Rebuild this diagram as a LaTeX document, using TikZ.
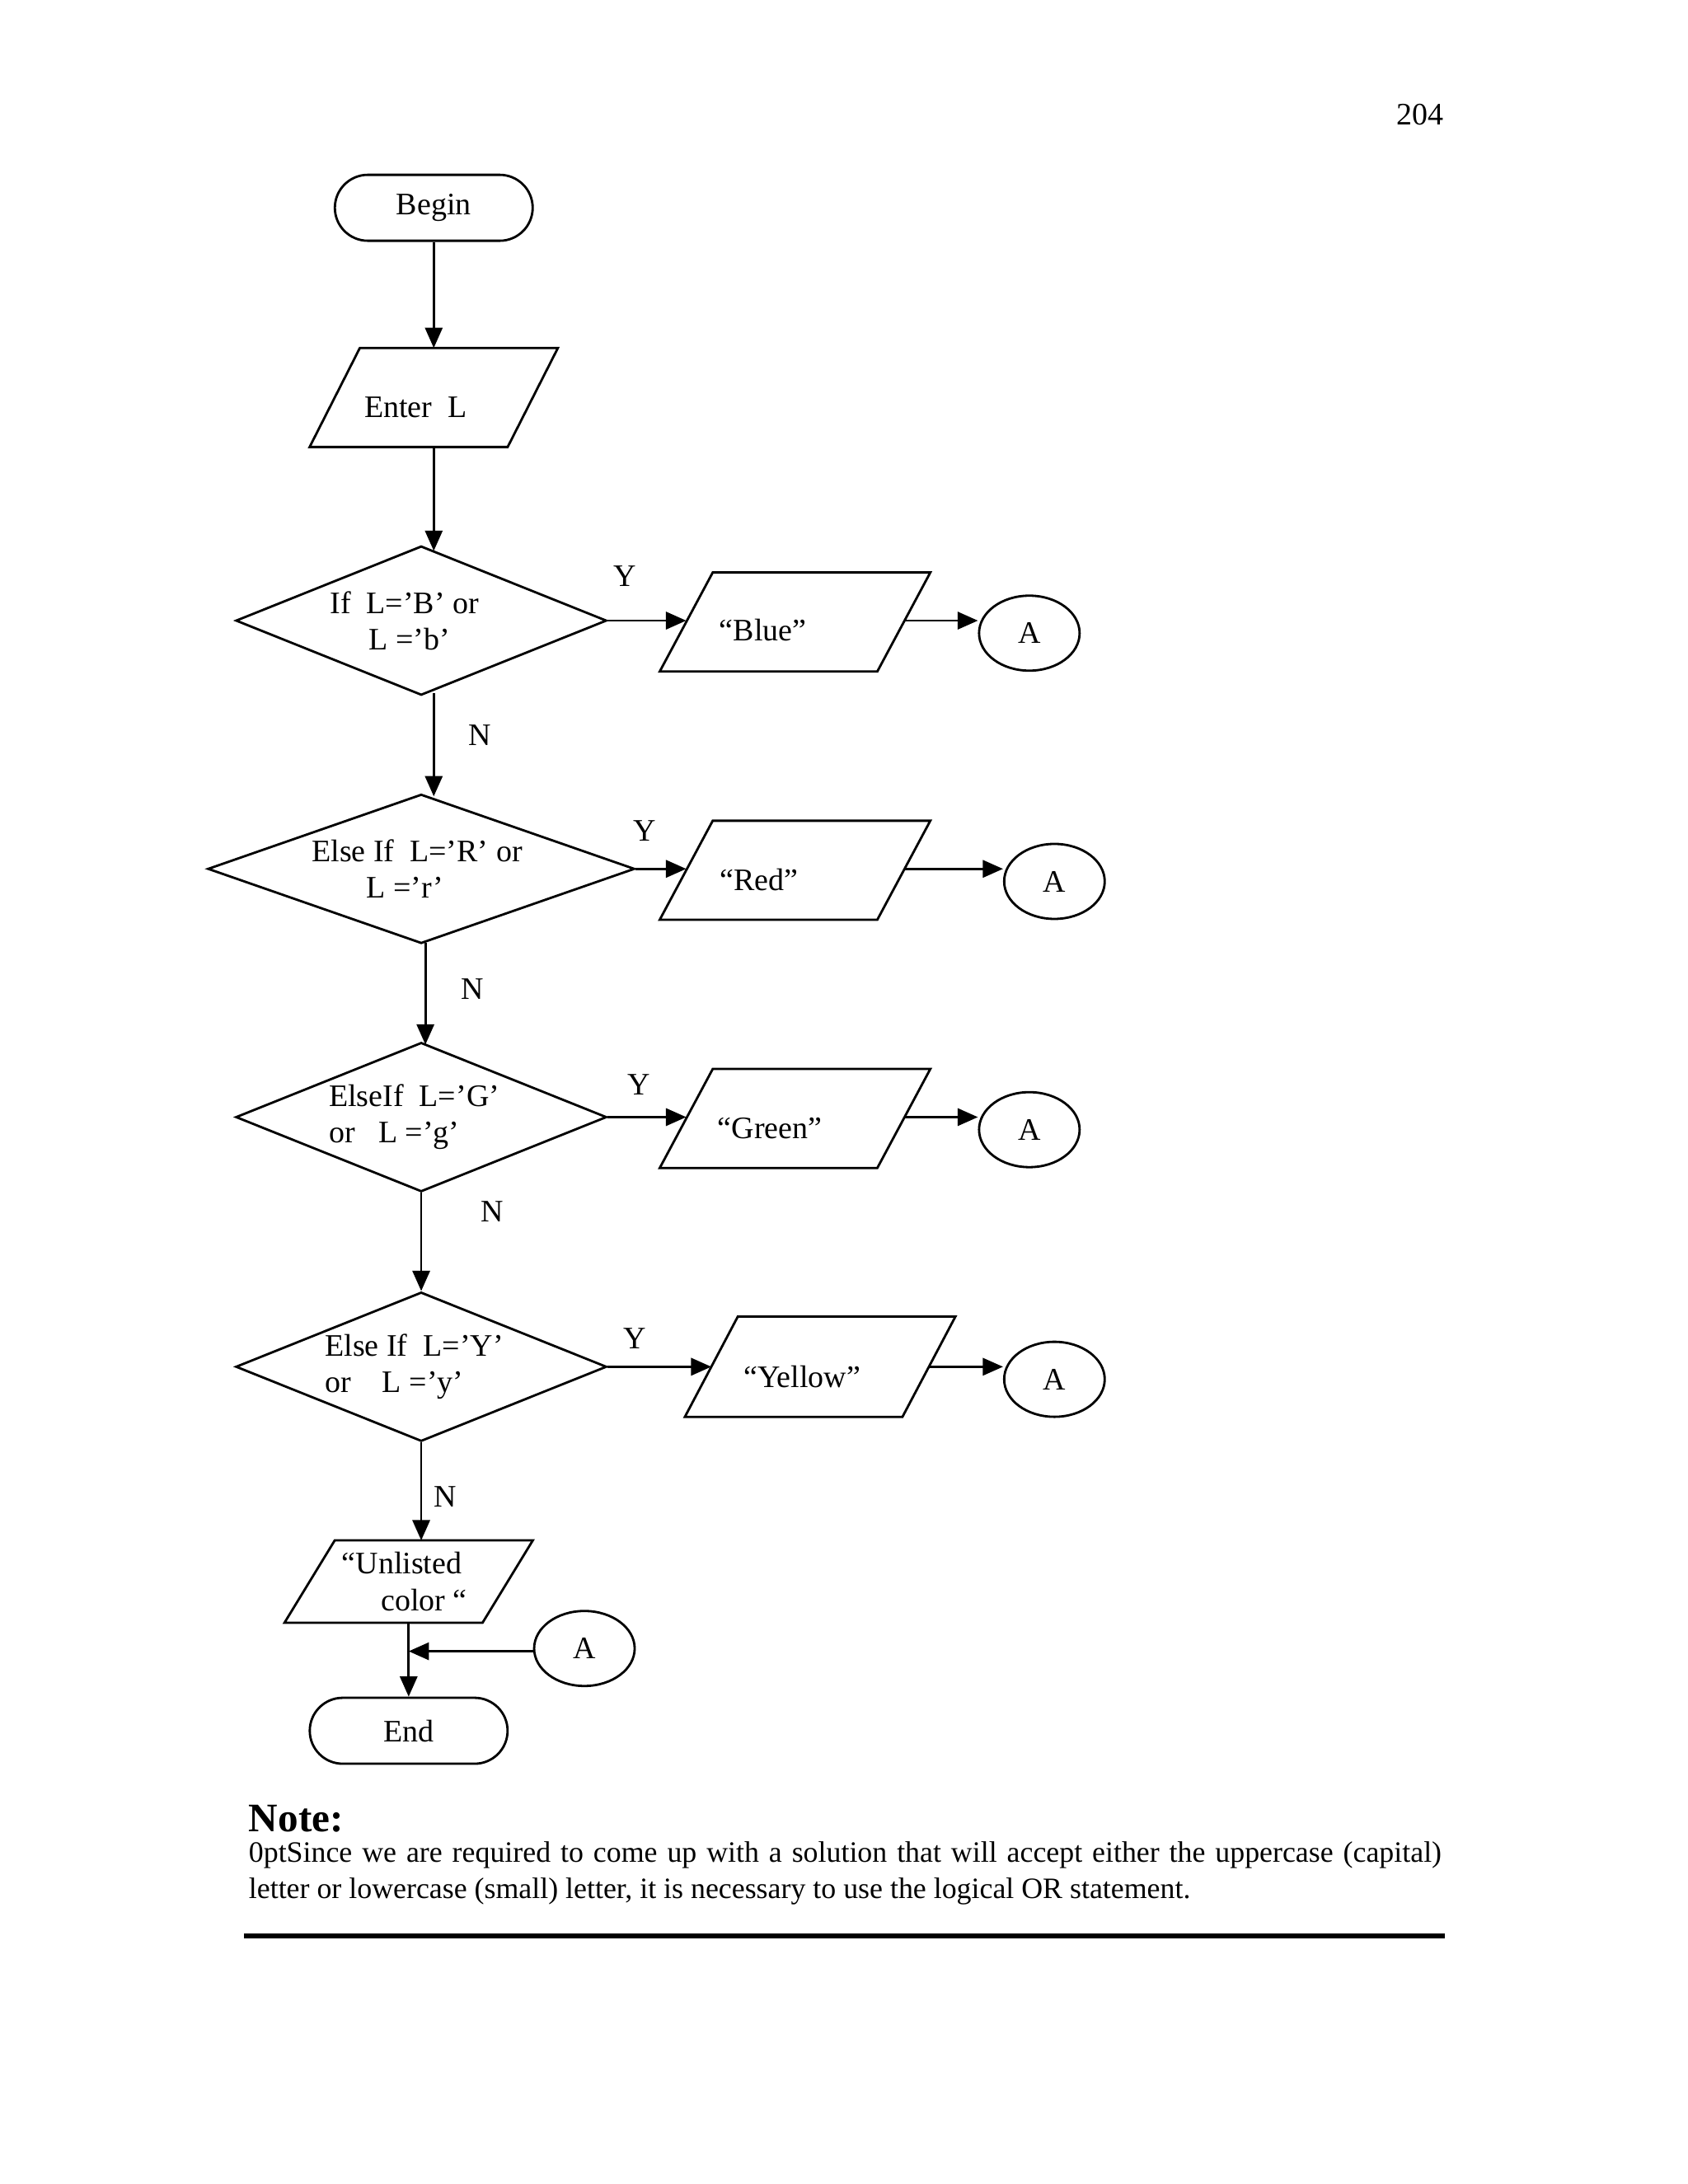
\documentclass[tikz,border=0pt]{standalone}
\usepackage{fontspec}
\setmainfont{Liberation Serif}
\usetikzlibrary{shapes.geometric,arrows.meta}
\newcommand{\mypara}[6]{% name cx cy halfw halfh slant
  \draw[thick] ({#2-#4+#6},{#3-#5}) -- ({#2+#4+#6},{#3-#5}) -- ({#2+#4-#6},{#3+#5}) -- ({#2-#4-#6},{#3+#5}) -- cycle;
  \coordinate (#1-n) at (#2,{#3-#5});
  \coordinate (#1-s) at (#2,{#3+#5});
  \coordinate (#1-w) at ({#2-#4},#3);
  \coordinate (#1-e) at ({#2+#4},#3);}
\begin{document}
\begin{tikzpicture}[x=0.016926cm,y=-0.016926cm,
  every node/.style={font=\fontsize{10.8}{12.6}\selectfont},
  term/.style={draw,thick,rounded corners=0.4cm,minimum width=2.40cm,minimum height=0.80cm,inner sep=0},
  dec/.style={draw,thick,diamond,minimum width=4.50cm,minimum height=1.81cm,inner sep=0},
  conn/.style={draw,thick,ellipse,minimum width=1.22cm,minimum height=0.91cm,inner sep=0},
  arr/.style={thick,-{Triangle[length=7pt,width=6pt]}},
  lbl/.style={inner sep=0}]
\useasboundingbox (0,0) rectangle (1210,1566);
\node[lbl] (pg) at (1018,82) {204};
\node[term] (begin) at (311,149) {Begin};
\mypara{enter}{311}{285}{71}{35.5}{18}
\node[lbl] (entert) at (298,292) {Enter\ \ L};
\draw[arr] (begin.south) -- (enter-n);

\node[dec] (d1) at (302,445) {};
\node[lbl,align=left] (d1t) at (290,445) {If\ \ L=’B’ or\\\ \ \ \ \ L =’b’};
\coordinate (d1in) at (311,395);
\draw[arr] (enter-s) -- (d1in);
\mypara{blue}{570}{446}{78}{35.5}{19}
\node[lbl] (bluet) at (547,452) {“Blue”};
\node[conn] (a1) at (738,454) {A};
\draw[arr] (d1.east) -- (blue-w |- d1.east);
\node[lbl] (y1) at (448,413) {Y};
\coordinate (bo1) at (648,445);
\draw[arr] (bo1) -- (a1.west |- bo1);

\node[dec,minimum width=5.18cm] (d2) at (302,623) {};
\node[lbl,align=left] (d2t) at (299,623) {Else If\ \ L=’R’ or\\\ \ \ \ \ \ \ L =’r’};
\coordinate (d1out) at (311,497);
\coordinate (d2in) at (311,571);
\draw[arr] (d1out) -- (d2in);
\node[lbl] (n1) at (344,527) {N};
\mypara{red}{570}{624}{78}{35.5}{19}
\node[lbl] (redt) at (544,631) {“Red”};
\node[conn] (a2) at (756,632) {A};
\draw[arr] (d2.east) -- (red-w |- d2.east);
\node[lbl] (y2) at (462,596) {Y};
\coordinate (bo2) at (648,623);
\draw[arr] (bo2) -- (a2.west |- bo2);

\node[dec] (d3) at (302,801) {};
\node[lbl,align=left] (d3t) at (297,801) {ElseIf\ \ L=’G’\\or\ \ \ L =’g’};
\coordinate (d2out) at (305,676);
\coordinate (d3in) at (305,749);
\draw[arr] (d2out) -- (d3in);
\node[lbl] (n2) at (339,709) {N};
\mypara{green}{570}{802}{78}{35.5}{19}
\node[lbl] (greent) at (552,809) {“Green”};
\node[conn] (a3) at (738,810) {A};
\draw[arr] (d3.east) -- (green-w |- d3.east);
\node[lbl] (y3) at (458,778) {Y};
\coordinate (bo3) at (648,801);
\draw[arr] (bo3) -- (a3.west |- bo3);

\node[dec] (d4) at (302,980) {};
\node[lbl,align=left] (d4t) at (297,980) {Else If\ \ L=’Y’\\or\ \ \ \ L =’y’};
\draw[arr] (d3.south) -- (d4.north);
\node[lbl] (n3) at (353,869) {N};
\mypara{yellow}{588}{980}{78}{36}{19}
\node[lbl] (yellowt) at (575,987) {“Yellow”};
\node[conn] (a4) at (756,989) {A};
\draw[arr] (d4.east) -- (yellow-w |- d4.east);
\node[lbl] (y4) at (455,960) {Y};
\coordinate (bo4) at (666,980);
\draw[arr] (bo4) -- (a4.west |- bo4);

\mypara{unl}{293}{1134}{71}{29.5}{18}
\node[lbl,align=left] (unlt) at (290,1134) {“Unlisted\\\ \ \ \ \ color “};
\draw[arr] (d4.south) -- (d4.south |- unl-n);
\node[lbl] (n4) at (319,1073) {N};
\node[term] (end) at (293,1241) {End};
\draw[arr] (unl-s) -- (end.north);
\node[conn] (a5) at (419,1182) {A};
\coordinate (j) at (293,1184);
\draw[arr] (a5.west |- j) -- (j);

\node[lbl,anchor=west,font=\fontsize{14}{16}\bfseries] (note) at (178,1304) {Note:};
\node[lbl,anchor=north west,text width=14.47cm,align=justify,font=\fontsize{10.2}{12.6}\selectfont\hyphenpenalty=10000] (para) at (178,1320) {Since we are required to come up with a solution that will accept either the uppercase (capital) letter or lowercase (small) letter, it is necessary to use the logical OR statement.};
\draw[line width=1.6pt] (175,1388) -- (1036,1388);
\end{tikzpicture}
\end{document}
